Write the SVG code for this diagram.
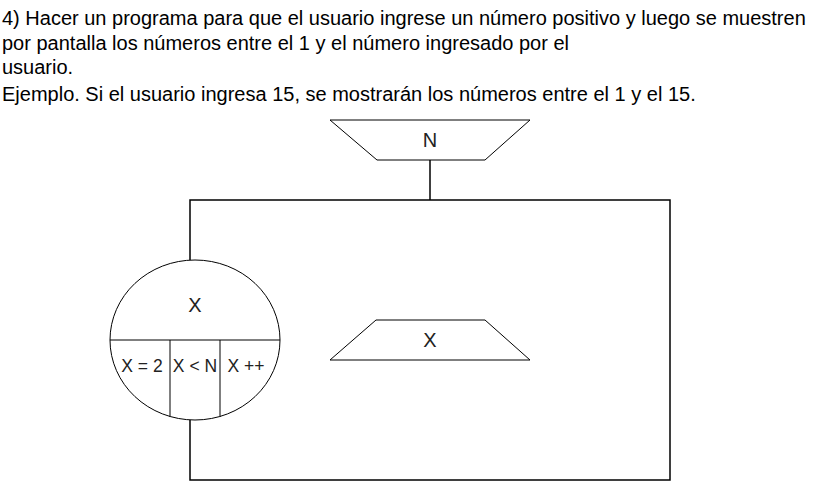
<svg xmlns="http://www.w3.org/2000/svg" width="820" height="481" viewBox="0 0 820 481">
<style>
.t{font-family:"Liberation Sans",Arial,sans-serif;font-size:20px;fill:#000}
.s{fill:#fff;stroke:#000;stroke-width:1}
.c{fill:none;stroke:#000;stroke-width:1.5}
.l{font-family:"Liberation Sans",Arial,sans-serif;font-size:20px;fill:#222;text-anchor:middle}
.m{font-size:17.5px}
</style>
<rect width="820" height="481" fill="#fff"/>
<g id="title">
<text class="t" x="2" y="25">4) Hacer un programa para que el usuario ingrese un número positivo y luego se muestren</text>
<text class="t" x="2" y="50">por pantalla los números entre el 1 y el número ingresado por el</text>
<text class="t" x="2" y="74">usuario.</text>
<text class="t" x="2" y="101">Ejemplo. Si el usuario ingresa 15, se mostrarán los números entre el 1 y el 15.</text>
</g>
<g id="connectors">
<line class="c" x1="430" y1="160" x2="430" y2="200"/>
<polyline class="c" points="190,260 190,200 670,200 670,480 190,480 190,420"/>
</g>
<g id="input-N">
<polygon class="s" points="330,120 530,120 485,160 377,160"/>
<text class="l" x="430" y="147">N</text>
</g>
<g id="loop-X">
<ellipse class="s" cx="195" cy="340" rx="85" ry="80"/>
<line class="s" x1="110" y1="340" x2="280" y2="340"/>
<line class="s" x1="170" y1="340" x2="170" y2="417"/>
<line class="s" x1="220" y1="340" x2="220" y2="417"/>
<text class="l" x="195" y="312">X</text>
<text class="l m" x="142" y="372">X = 2</text>
<text class="l m" x="195" y="372">X &lt; N</text>
<text class="l m" x="246" y="372">X ++</text>
</g>
<g id="output-X">
<polygon class="s" points="376,320 485,320 530,360 330,360"/>
<text class="l" x="430" y="347">X</text>
</g>
</svg>
